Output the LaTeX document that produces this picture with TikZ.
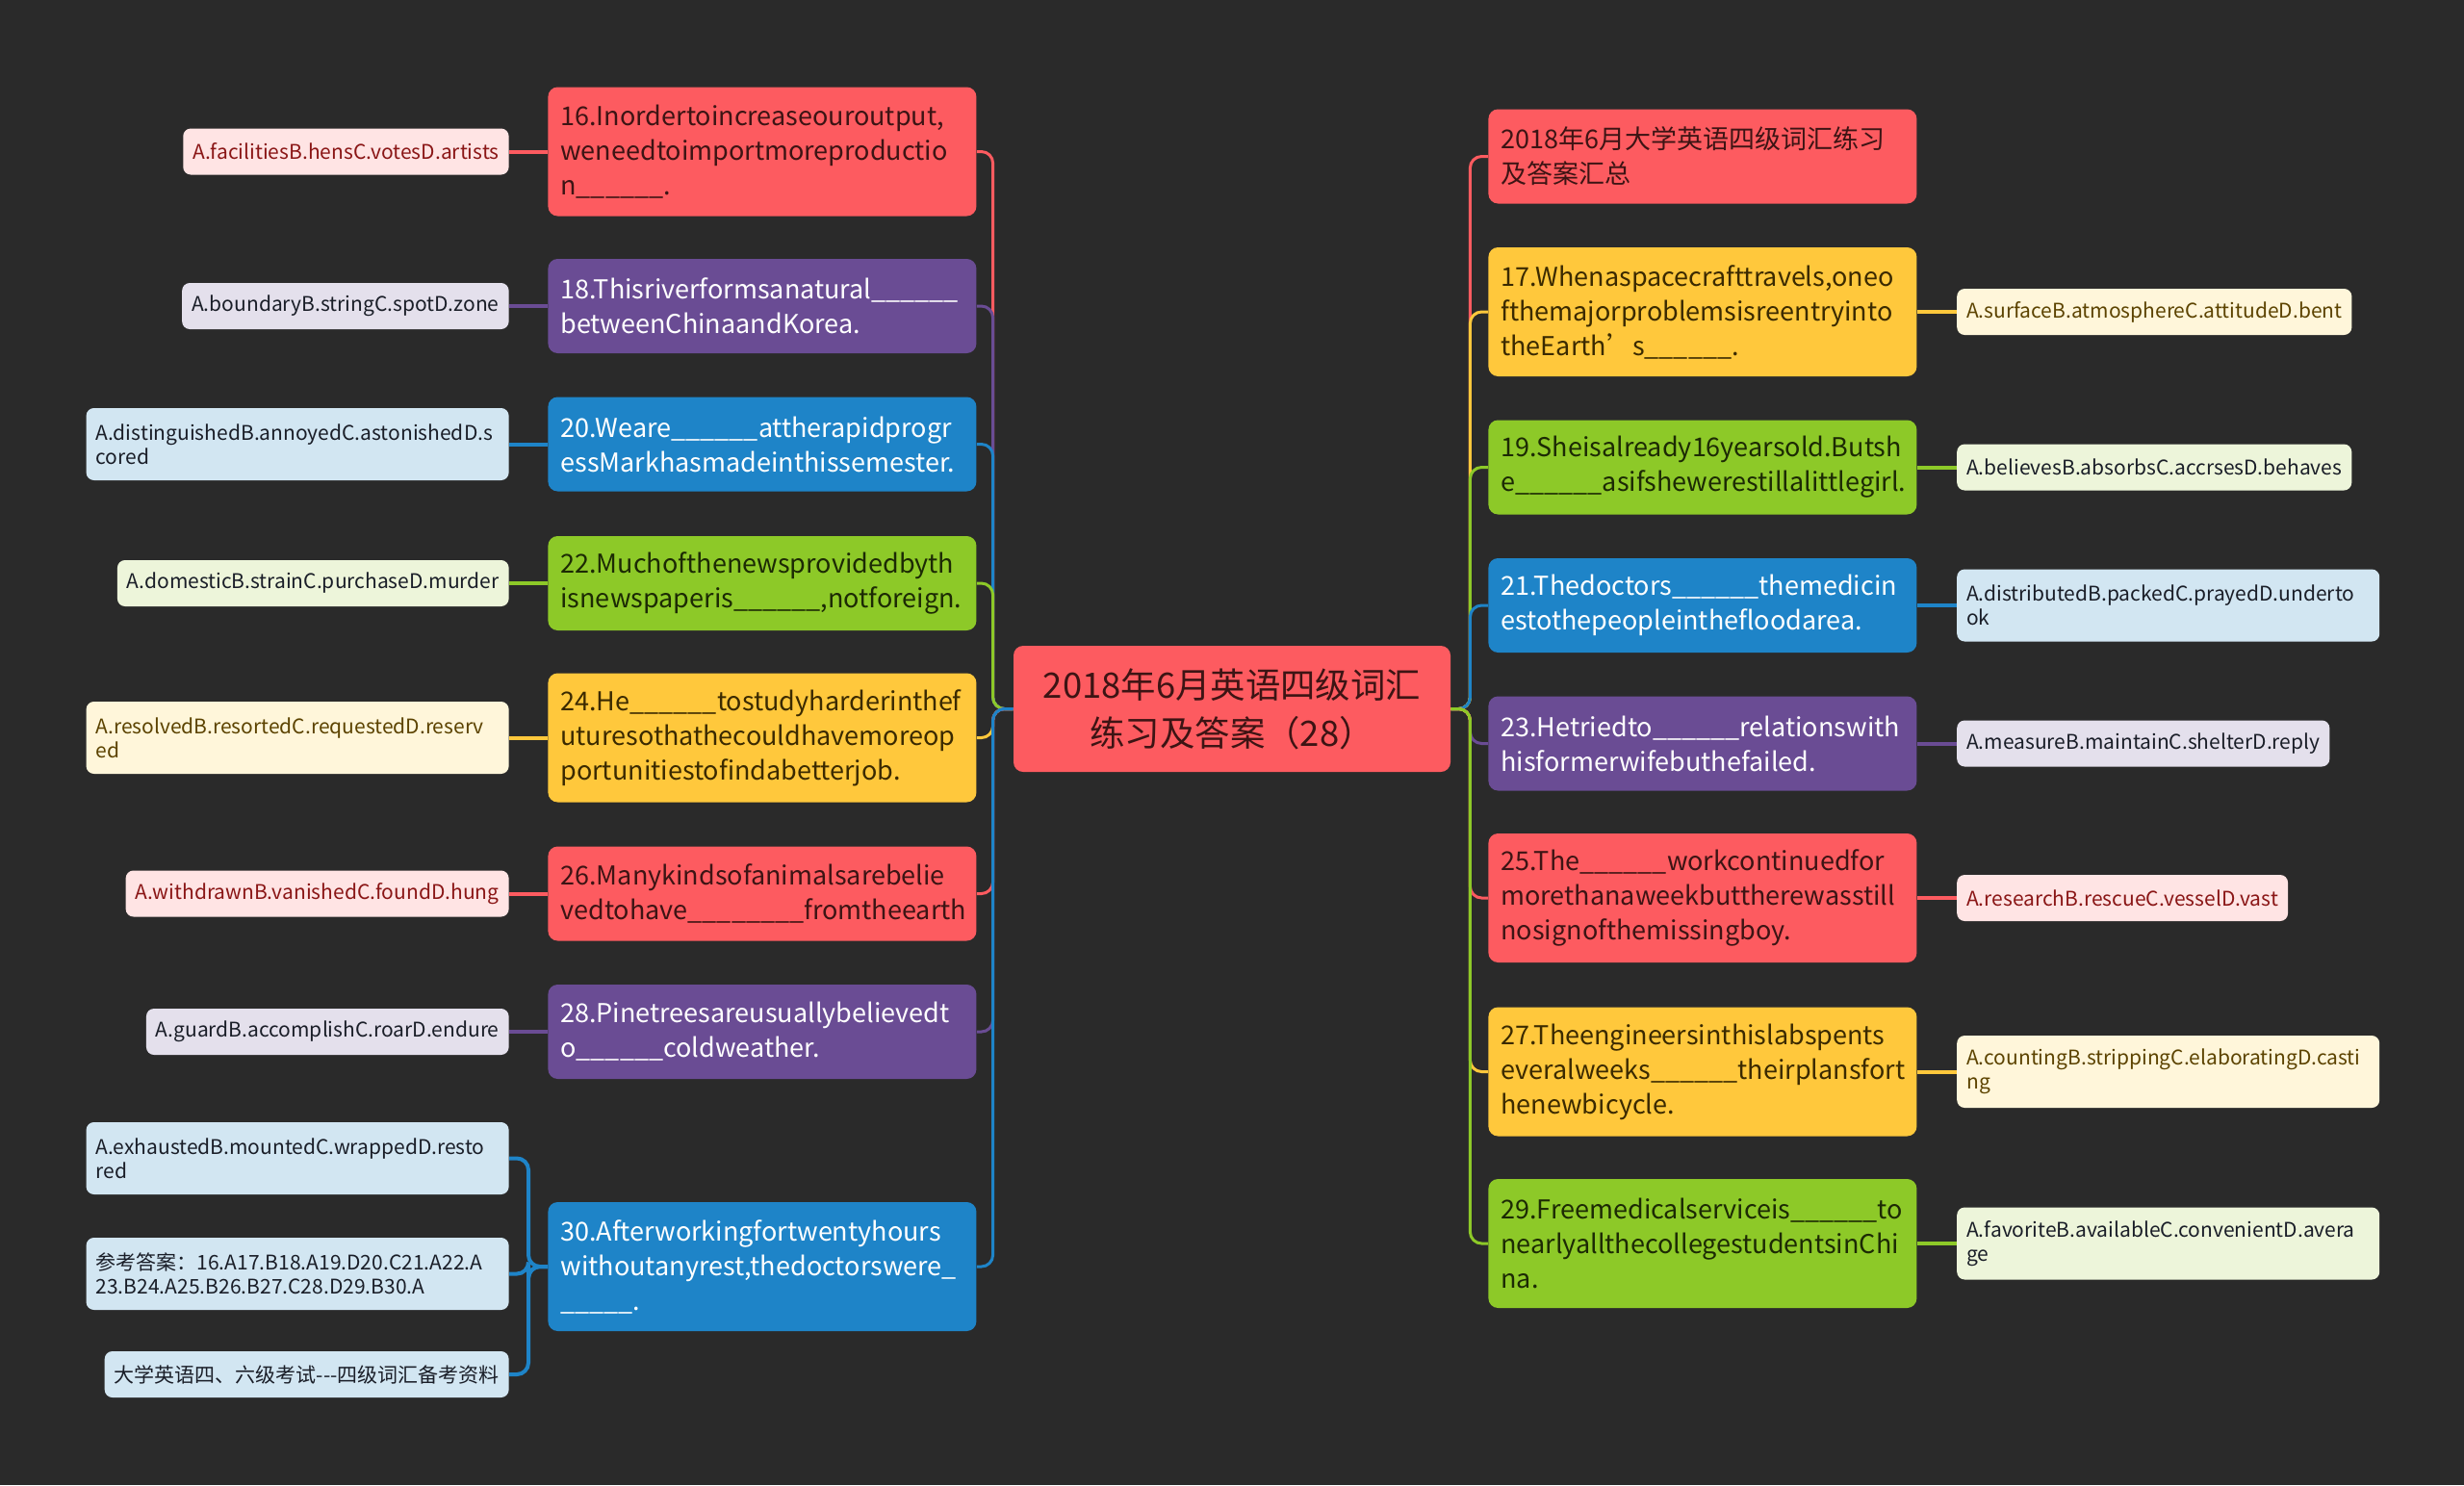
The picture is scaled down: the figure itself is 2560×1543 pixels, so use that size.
\documentclass[tikz,border=0pt]{standalone}
\usepackage{fontspec}
\setmainfont{Noto Sans CJK SC}
\usetikzlibrary{positioning}

\definecolor{bg}{HTML}{2A2A2A}
\definecolor{cRed}{HTML}{FD5B60}
\definecolor{cPurple}{HTML}{6A4C94}
\definecolor{cBlue}{HTML}{1E84C8}
\definecolor{cGreen}{HTML}{8DC928}
\definecolor{cYellow}{HTML}{FFC83C}
\definecolor{lRed}{HTML}{FFE4E4}
\definecolor{lPurple}{HTML}{E4E0EC}
\definecolor{lBlue}{HTML}{D2E6F2}
\definecolor{lGreen}{HTML}{EDF5DA}
\definecolor{lYellow}{HTML}{FFF6DA}
\definecolor{tRed}{HTML}{3D1414}
\definecolor{tGreen}{HTML}{1C2A04}
\definecolor{tYellow}{HTML}{3B2A00}
\definecolor{tlRed}{HTML}{8A1616}
\definecolor{tlYellow}{HTML}{5C4300}
\definecolor{tlDark}{HTML}{1A1E28}

\hyphenpenalty=10000
\exhyphenpenalty=10000
\newcommand{\blank}{\_\_\_\_\_\_}

\begin{document}
\begin{tikzpicture}[x=0.5pt, y=-0.5pt,
  hub/.style={rounded corners=5pt, fill=cRed, text=tRed, align=center,
    minimum width=227pt, minimum height=65.5pt, font=\fontsize{18.2}{25}\selectfont},
  topic/.style={rounded corners=5pt, align=left, text width=209.5pt,
    inner xsep=6.5pt, inner ysep=0pt, anchor=west, font=\fontsize{13.5}{18}\selectfont},
  two/.style={minimum height=49pt},
  three/.style={minimum height=67pt},
  leaf/.style={rounded corners=4pt, inner xsep=5pt, inner ysep=0pt,
    minimum height=24pt, font=\fontsize{10.5}{12.5}\selectfont},
  wideleaf/.style={leaf, align=left, text width=209.5pt, minimum height=37.5pt},
  redbox/.style={fill=cRed, text=tRed},
  purplebox/.style={fill=cPurple, text=white},
  bluebox/.style={fill=cBlue, text=white},
  greenbox/.style={fill=cGreen, text=tGreen},
  yellowbox/.style={fill=cYellow, text=tYellow},
  redleaf/.style={fill=lRed, text=tlRed},
  purpleleaf/.style={fill=lPurple, text=tlDark},
  blueleaf/.style={fill=lBlue, text=tlDark},
  greenleaf/.style={fill=lGreen, text=tlDark},
  yellowleaf/.style={fill=lYellow, text=tlYellow},
  trunk/.style={line width=1.5pt, rounded corners=6pt},
  twig/.style={line width=2pt, rounded corners=6pt}]

  \fill[bg] (0,0) rectangle (2560,1543);

  % centre
  \node[hub] (hub) at (1280,736.5) {2018年6月英语四级词汇\\练习及答案（28）};

  % left questions
  \node[topic, three, redbox] (q16) at (569,157.5) {16.Inordertoincreaseouroutput,\\weneedtoimportmoreproductio\\n\blank.};
  \node[topic, two, purplebox] (q18) at (569,318) {18.Thisriverformsanatural\blank\\betweenChinaandKorea.};
  \node[topic, two, bluebox] (q20) at (569,461.5) {20.Weare\blank attherapidprogr\\essMarkhasmadeinthissemester.};
  \node[topic, two, greenbox] (q22) at (569,606) {22.Muchofthenewsprovidedbyth\\isnewspaperis\blank,notforeign.};
  \node[topic, three, yellowbox] (q24) at (569,766.5) {24.He\blank tostudyharderinthef\\uturesothathecouldhavemoreop\\portunitiestofindabetterjob.};
  \node[topic, two, redbox] (q26) at (569,928.5) {26.Manykindsofanimalsarebelie\\vedtohave\blank\_\_fromtheearth};
  \node[topic, two, purplebox] (q28) at (569,1072) {28.Pinetreesareusuallybelievedt\\o\blank coldweather.};
  \node[topic, three, bluebox] (q30) at (569,1316) {30.Afterworkingfortwentyhours\\withoutanyrest,thedoctorswere\_\\\_\_\_\_\_.};

  % left answers
  \node[leaf, redleaf, left=20pt of q16] (a16) {A.facilitiesB.hensC.votesD.artists};
  \node[leaf, purpleleaf, left=20pt of q18] (a18) {A.boundaryB.stringC.spotD.zone};
  \node[wideleaf, blueleaf, left=20pt of q20] (a20) {A.distinguishedB.annoyedC.astonishedD.s\\cored};
  \node[leaf, greenleaf, left=20pt of q22] (a22) {A.domesticB.strainC.purchaseD.murder};
  \node[wideleaf, yellowleaf, left=20pt of q24] (a24) {A.resolvedB.resortedC.requestedD.reserv\\ed};
  \node[leaf, redleaf, left=20pt of q26] (a26) {A.withdrawnB.vanishedC.foundD.hung};
  \node[leaf, purpleleaf, left=20pt of q28] (a28) {A.guardB.accomplishC.roarD.endure};
  \node[wideleaf, blueleaf, anchor=east] (a30a) at (529,1203.5) {A.exhaustedB.mountedC.wrappedD.resto\\red};
  \node[wideleaf, blueleaf, anchor=east] (a30b) at (529,1323.5) {参考答案：16.A17.B18.A19.D20.C21.A22.A\\23.B24.A25.B26.B27.C28.D29.B30.A};
  \node[leaf, blueleaf, anchor=east] (a30c) at (529,1428) {大学英语四、六级考试-{}-{}-四级词汇备考资料};

  % right questions
  \node[topic, two, redbox] (qsum) at (1546,162.5) {2018年6月大学英语四级词汇练习\\及答案汇总};
  \node[topic, three, yellowbox] (q17) at (1546,324) {17.Whenaspacecrafttravels,oneo\\fthemajorproblemsisreentryinto\\theEarth’s\blank.};
  \node[topic, two, greenbox] (q19) at (1546,485.5) {19.Sheisalready16yearsold.Butsh\\e\blank asifshewerestillalittlegirl.};
  \node[topic, two, bluebox] (q21) at (1546,629) {21.Thedoctors\blank themedicin\\estothepeopleinthefloodarea.};
  \node[topic, two, purplebox] (q23) at (1546,772.5) {23.Hetriedto\blank relationswith\\hisformerwifebuthefailed.};
  \node[topic, three, redbox] (q25) at (1546,933) {25.The\blank workcontinuedfor\\morethanaweekbuttherewasstill\\nosignofthemissingboy.};
  \node[topic, three, yellowbox] (q27) at (1546,1113.5) {27.Theengineersinthislabspents\\everalweeks\blank theirplansfort\\henewbicycle.};
  \node[topic, three, greenbox] (q29) at (1546,1292) {29.Freemedicalserviceis\blank to\\nearlyallthecollegestudentsinChi\\na.};

  % right answers
  \node[leaf, yellowleaf, right=20.5pt of q17] (a17) {A.surfaceB.atmosphereC.attitudeD.bent};
  \node[leaf, greenleaf, right=20.5pt of q19] (a19) {A.believesB.absorbsC.accrsesD.behaves};
  \node[wideleaf, blueleaf, right=20.5pt of q21] (a21) {A.distributedB.packedC.prayedD.underto\\ok};
  \node[leaf, purpleleaf, right=20.5pt of q23] (a23) {A.measureB.maintainC.shelterD.reply};
  \node[leaf, redleaf, right=20.5pt of q25] (a25) {A.researchB.rescueC.vesselD.vast};
  \node[wideleaf, yellowleaf, right=20.5pt of q27] (a27) {A.countingB.strippingC.elaboratingD.casti\\ng};
  \node[wideleaf, greenleaf, right=20.5pt of q29] (a29) {A.favoriteB.availableC.convenientD.avera\\ge};

  % trunk lines
  \draw[trunk, cRed] (hub.west) -- ++(-21,0) |- (q16.east);
  \draw[trunk, cPurple] (hub.west) -- ++(-21,0) |- (q18.east);
  \draw[trunk, cBlue] (hub.west) -- ++(-21,0) |- (q20.east);
  \draw[trunk, cGreen] (hub.west) -- ++(-21,0) |- (q22.east);
  \draw[trunk, cYellow] (hub.west) -- ++(-21,0) |- (q24.east);
  \draw[trunk, cRed] (hub.west) -- ++(-21,0) |- (q26.east);
  \draw[trunk, cPurple] (hub.west) -- ++(-21,0) |- (q28.east);
  \draw[trunk, cBlue] (hub.west) -- ++(-21,0) |- (q30.east);
  \draw[trunk, cRed] (hub.east) -- ++(20,0) |- (qsum.west);
  \draw[trunk, cYellow] (hub.east) -- ++(20,0) |- (q17.west);
  \draw[trunk, cGreen] (hub.east) -- ++(20,0) |- (q19.west);
  \draw[trunk, cBlue] (hub.east) -- ++(20,0) |- (q21.west);
  \draw[trunk, cPurple] (hub.east) -- ++(20,0) |- (q23.west);
  \draw[trunk, cRed] (hub.east) -- ++(20,0) |- (q25.west);
  \draw[trunk, cYellow] (hub.east) -- ++(20,0) |- (q27.west);
  \draw[trunk, cGreen] (hub.east) -- ++(20,0) |- (q29.west);

  % answer lines
  \draw[twig, cRed] (q16) -- (a16);
  \draw[twig, cPurple] (q18) -- (a18);
  \draw[twig, cBlue] (q20) -- (a20);
  \draw[twig, cGreen] (q22) -- (a22);
  \draw[twig, cYellow] (q24) -- (a24);
  \draw[twig, cRed] (q26) -- (a26);
  \draw[twig, cPurple] (q28) -- (a28);
  \draw[twig, cBlue] (q30.west) -- ++(-20,0) |- (a30a.east);
  \draw[twig, cBlue] (q30.west) -- ++(-20,0) |- (a30b.east);
  \draw[twig, cBlue] (q30.west) -- ++(-20,0) |- (a30c.east);
  \draw[twig, cYellow] (q17) -- (a17);
  \draw[twig, cGreen] (q19) -- (a19);
  \draw[twig, cBlue] (q21) -- (a21);
  \draw[twig, cPurple] (q23) -- (a23);
  \draw[twig, cRed] (q25) -- (a25);
  \draw[twig, cYellow] (q27) -- (a27);
  \draw[twig, cGreen] (q29) -- (a29);
\end{tikzpicture}
\end{document}
